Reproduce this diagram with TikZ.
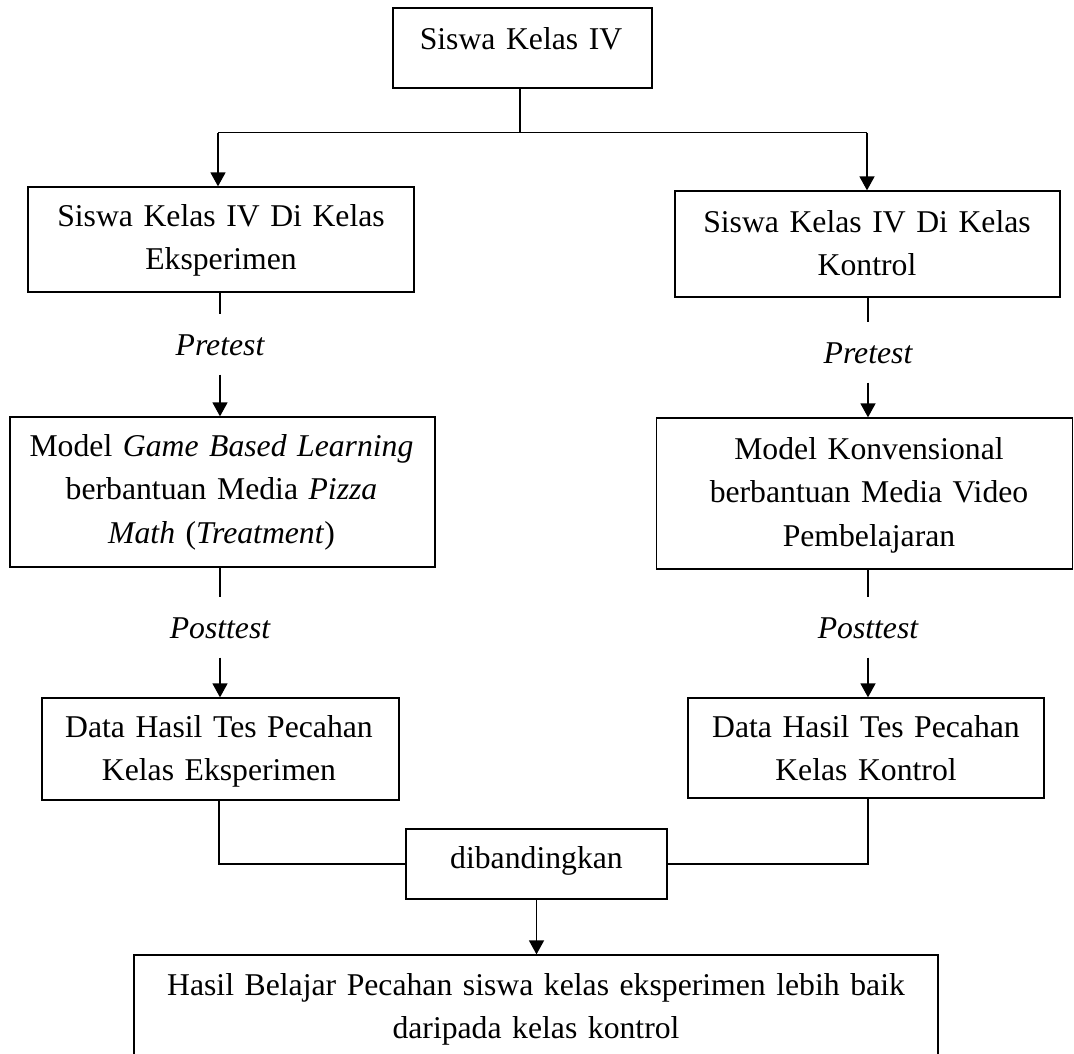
\documentclass[tikz,border=0pt]{standalone}
\usepackage{fontspec}
\setmainfont{Liberation Serif}
\usetikzlibrary{arrows.meta}
\begin{document}
\begin{tikzpicture}[x=1pt,y=-1pt,
  bx/.style={draw,line width=1.3pt,inner sep=0pt},
  tx/.style={anchor=base,align=center,inner sep=0pt,font=\fontsize{31.7}{43.5}\selectfont},
  lbl/.style={anchor=base,font=\fontsize{31.7}{43.5}\selectfont\itshape,inner xsep=0pt,inner ysep=19.5pt,text height=21pt,text depth=0pt},
  ln/.style={line width=1.6pt},
  arr/.style={ln,-{Triangle[width=15pt,length=14pt]}}]
\useasboundingbox (0,0) rectangle (1074,1053);
\clip (0,0) rectangle (1074,1053);
% boxes
\node[bx,minimum width=259pt,minimum height=80pt] (top) at (522.5,48) {};
\node[bx,minimum width=386pt,minimum height=105pt] (b2L) at (221,239.5) {};
\node[bx,minimum width=385pt,minimum height=106pt] (b2R) at (867.5,244) {};
\node[bx,minimum width=425pt,minimum height=150pt] (b3L) at (222.5,492) {};
\node[bx,minimum width=416pt,minimum height=151pt] (b3R) at (864.5,493.5) {};
\node[bx,minimum width=357pt,minimum height=102pt] (b4L) at (220.5,749) {};
\node[bx,minimum width=356pt,minimum height=100pt] (b4R) at (866,748) {};
\node[bx,minimum width=261pt,minimum height=70pt] (bd) at (536.5,864) {};
\node[bx,minimum width=804pt,minimum height=130pt] (bf) at (536,1020) {};
% texts
\node[tx,text width=250pt] (topt) at (521,49) {Siswa Kelas IV};
\node[tx,text width=380pt] (b2Lt) at (221,226) {Siswa Kelas IV Di Kelas\\Eksperimen};
\node[tx,text width=380pt] (b2Rt) at (867,232) {Siswa Kelas IV Di Kelas\\Kontrol};
\node[tx,text width=420pt] (b3Lt) at (221.5,456) {Model \textit{Game Based Learning}\\berbantuan Media \textit{Pizza}\\\textit{Math} (\textit{Treatment})};
\node[tx,text width=410pt] (b3Rt) at (869,459) {Model Konvensional\\berbantuan Media Video\\Pembelajaran};
\node[tx,text width=350pt] (b4Lt) at (219,737) {Data Hasil Tes Pecahan\\Kelas Eksperimen};
\node[tx,text width=350pt] (b4Rt) at (866,737) {Data Hasil Tes Pecahan\\Kelas Kontrol};
\node[tx,text width=255pt] (bdt) at (536.5,868) {dibandingkan};
\node[tx,text width=800pt] (bft) at (536,995) {Hasil Belajar Pecahan siswa kelas eksperimen lebih baik\\daripada kelas kontrol};
% labels
\node[lbl] (pre1) at (220,355) {Pretest};
\node[lbl] (pre2) at (868,363) {Pretest};
\node[lbl] (post1) at (220,638) {Posttest};
\node[lbl] (post2) at (868,638) {Posttest};
% split
\coordinate (jn) at (520,132.5);
\coordinate (jL) at (218,132.5);
\coordinate (jR) at (867,132.5);
\draw[ln] (top.south -| jn) -- (jn);
\draw[ln] (jL) -- (jR);
\draw[arr] (jL) -- (jL |- b2L.north);
\draw[arr] (jR) -- (jR |- b2R.north);
% left column
\draw[ln] (b2L.south -| pre1) -- (pre1.north);
\draw[arr] (pre1.south) -- (pre1.south |- b3L.north);
\draw[ln] (b3L.south -| post1) -- (post1.north);
\draw[arr] (post1.south) -- (post1.south |- b4L.north);
% right column
\draw[ln] (b2R.south -| pre2) -- (pre2.north);
\draw[arr] (pre2.south) -- (pre2.south |- b3R.north);
\draw[ln] (b3R.south -| post2) -- (post2.north);
\draw[arr] (post2.south) -- (post2.south |- b4R.north);
% join
\coordinate (cL) at (219,864);
\coordinate (cR) at (868,864);
\draw[ln] (b4L.south -| cL) -- (cL) -- (bd.west);
\draw[ln] (b4R.south -| cR) -- (cR) -- (bd.east);
\draw[arr] (bd.south) -- (bd.south |- bf.north);
\end{tikzpicture}
\end{document}
